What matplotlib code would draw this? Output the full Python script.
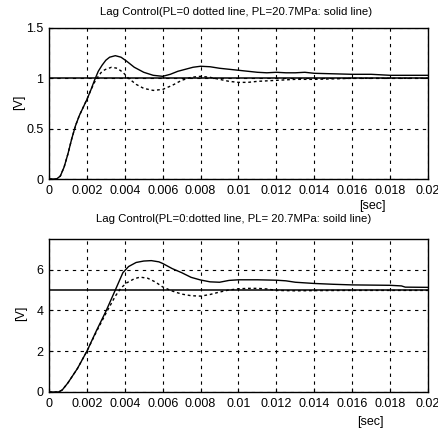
import matplotlib
matplotlib.use("Agg")
import matplotlib.pyplot as plt
from matplotlib import font_manager

names = {f.name for f in font_manager.fontManager.ttflist}
fam = "Liberation Sans Narrow" if "Liberation Sans Narrow" in names else "Liberation Sans"
plt.rcParams['font.family'] = [fam, 'DejaVu Sans']

# ---- data (time in ms) ----
t1_solid = [0, 0.4, 0.6, 0.8, 1.0, 1.2, 1.4, 1.6, 1.8, 2.0, 2.2, 2.4, 2.6, 2.8, 3.0, 3.2, 3.5, 3.8, 4.1, 4.5,
            5.0, 5.5, 6.0, 6.4, 6.8, 7.2, 7.6, 8.0, 8.5, 9.0, 9.5, 10, 10.5, 11, 11.5, 12, 12.5, 13, 13.5,
            14, 15, 16, 17, 18, 19, 20]
v1_solid = [0, 0, 0.03, 0.12, 0.25, 0.4, 0.53, 0.63, 0.71, 0.79, 0.88, 0.98, 1.07, 1.13, 1.18, 1.21, 1.225,
            1.21, 1.17, 1.11, 1.06, 1.03, 1.02, 1.04, 1.07, 1.09, 1.11, 1.12, 1.115, 1.10, 1.09, 1.08, 1.07,
            1.06, 1.055, 1.06, 1.055, 1.055, 1.06, 1.05, 1.045, 1.04, 1.04, 1.03, 1.03, 1.03]
t1_dot = [0, 0.4, 0.6, 0.8, 1.0, 1.2, 1.4, 1.6, 1.8, 2.0, 2.2, 2.4, 2.6, 2.8, 3.0, 3.3, 3.6, 3.9, 4.2, 4.6,
          5.0, 5.5, 6.0, 6.5, 7.0, 7.5, 8.0, 8.5, 9.0, 9.5, 10, 10.5, 11, 12, 13, 14, 16, 18, 20]
v1_dot = [0, 0, 0.03, 0.12, 0.25, 0.4, 0.53, 0.63, 0.71, 0.79, 0.88, 0.96, 1.02, 1.07, 1.09, 1.11, 1.10,
          1.06, 1.0, 0.94, 0.90, 0.88, 0.89, 0.93, 0.98, 1.01, 1.02, 1.01, 0.99, 0.97, 0.96, 0.96, 0.97,
          0.98, 0.99, 0.99, 1.0, 1.0, 1.0]
ref1 = 1.0

t2_solid = [0, 0.5, 0.7, 1.0, 1.5, 2.0, 2.5, 3.0, 3.5, 3.9, 4.2, 4.6, 5.0, 5.4, 5.8, 6.0, 6.5, 7.0, 7.5, 8.0,
            8.5, 9.0, 9.5, 10, 11, 12, 12.5, 13, 14, 15, 16, 17, 18, 18.6, 18.8, 20]
v2_solid = [0, 0, 0.1, 0.45, 1.15, 2.0, 3.0, 3.95, 5.0, 5.85, 6.15, 6.35, 6.42, 6.44, 6.38, 6.3, 6.05, 5.85,
            5.62, 5.49, 5.4, 5.38, 5.47, 5.5, 5.5, 5.48, 5.45, 5.38, 5.32, 5.28, 5.25, 5.24, 5.23, 5.2,
            5.14, 5.13]
t2_dot = [0, 0.5, 0.7, 1.0, 1.5, 2.0, 2.5, 3.0, 3.5, 3.8, 4.1, 4.5, 4.8, 5.2, 5.6, 6.0, 6.5, 7.0, 7.5, 8.0,
          8.5, 9.0, 9.5, 10, 10.5, 11, 11.5, 12, 13, 14, 16, 18, 20]
v2_dot = [0, 0, 0.1, 0.45, 1.15, 2.0, 2.95, 3.85, 4.7, 5.1, 5.35, 5.55, 5.63, 5.58, 5.4, 5.15, 4.95, 4.8,
          4.72, 4.7, 4.78, 4.9, 5.0, 5.06, 5.08, 5.08, 5.05, 4.98, 4.96, 4.97, 4.98, 4.98, 4.98]
ref2 = 5.0

xticks = [0, 0.002, 0.004, 0.006, 0.008, 0.01, 0.012, 0.014, 0.016, 0.018, 0.02]
xticklabels = ["0", "0.002", "0.004", "0.006", "0.008", "0.01", "0.012", "0.014", "0.016", "0.018", "0.02"]
yticks1 = [0, 0.5, 1, 1.5]
yticklabels1 = ["0", "0.5", "1", "1.5"]
yticks2 = [0, 2, 4, 6]
yticklabels2 = ["0", "2", "4", "6"]
title1 = "Lag Control(PL=0 dotted line, PL=20.7MPa: solid line)"
title2 = "Lag Control(PL=0:dotted line, PL= 20.7MPa: soild line)"

W, H = 439, 432
fig = plt.figure(figsize=(W / 100, H / 100), dpi=100)

def ax_rect(l, t, r, b):
    return [l / W, 1 - b / H, (r - l) / W, (b - t) / H]

ax1 = fig.add_axes(ax_rect(49, 28, 428, 179))
ax2 = fig.add_axes(ax_rect(49, 239, 428, 392))

fs = 9
def style(ax, ylim, yt, ytl):
    ax.set_xlim(0, 0.02)
    ax.set_ylim(*ylim)
    ax.set_xticks(xticks)
    ax.set_xticklabels(xticklabels, fontsize=fs)
    ax.set_yticks(yt)
    ax.set_yticklabels(ytl, fontsize=fs)
    ax.tick_params(direction='in', length=3, width=0.8, pad=4, colors='black')
    ax.grid(True, color='black', linestyle=(0, (3, 4)), linewidth=0.8)
    for s in ax.spines.values():
        s.set_linewidth(1.0)
        s.set_color('black')

ms = lambda lst: [v / 1000 for v in lst]

ax1.plot(ms(t1_solid), v1_solid, color='black', lw=1.0)
ax1.plot(ms(t1_dot), v1_dot, color='black', lw=1.0, linestyle=(0, (2, 2)))
ax1.axhline(ref1, color='black', lw=1.1)
style(ax1, (0, 1.5), yticks1, yticklabels1)

ax2.plot(ms(t2_solid), v2_solid, color='black', lw=1.0)
ax2.plot(ms(t2_dot), v2_dot, color='black', lw=1.0, linestyle=(0, (2, 2)))
ax2.axhline(ref2, color='black', lw=1.1)
style(ax2, (0, 7.5), yticks2, yticklabels2)

def ftext(x, y, s, size=fs, **kw):
    fig.text(x / W, 1 - y / H, s, fontsize=size, ha='center', va='center', **kw)

ftext(236, 12, title1, size=8.2)
ftext(234, 219, title2, size=8.2)
ftext(372, 206, "[sec]")
ftext(370, 422, "[sec]")
ftext(19, 102, "[V]", rotation=90)
ftext(21, 313, "[V]", rotation=90)

fig.savefig("out.png", dpi=100)
